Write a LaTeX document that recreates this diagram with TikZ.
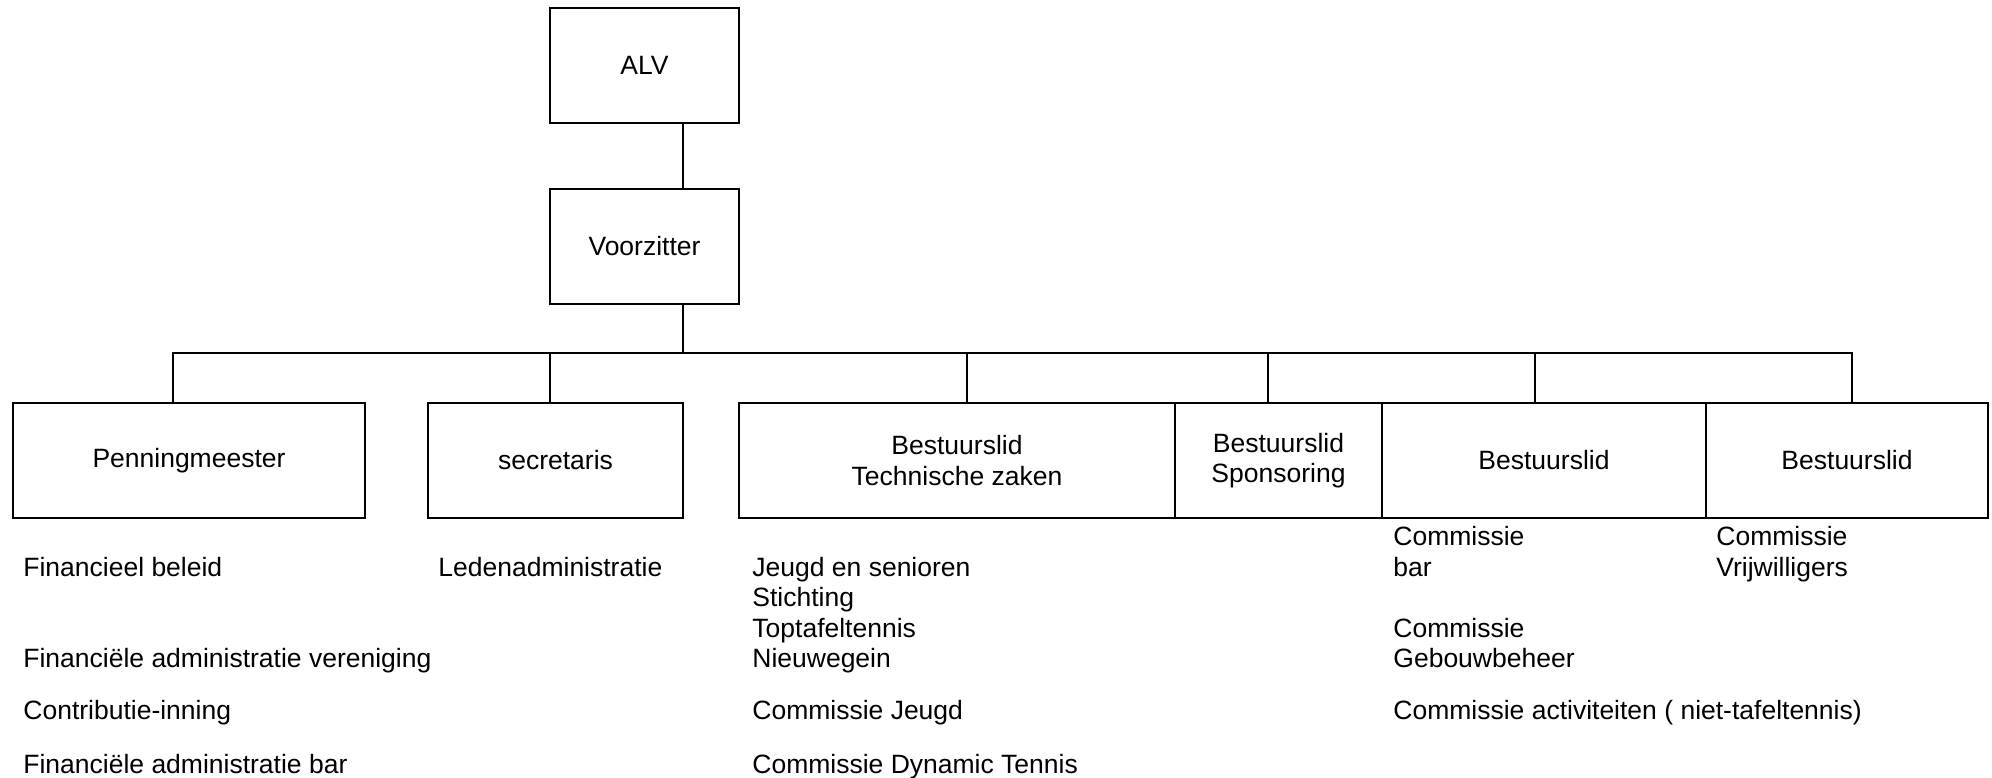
\documentclass[tikz,border=0pt]{standalone}
\usepackage{fontspec}
\setmainfont{Liberation Sans}
\begin{document}
\begin{tikzpicture}[x=0.5pt,y=-0.5pt,
  txt/.style={font=\fontsize{13.25}{15.25}\selectfont},
  box/.style={draw,line width=1pt,rectangle,inner sep=0pt,align=center,minimum height=57.5pt,txt},
  lbl/.style={anchor=base west,inner sep=0pt,align=left,txt},
  conn/.style={line width=1pt}]
\useasboundingbox (0,0) rectangle (1992,777);
% top boxes
\node[box,minimum width=94.5pt] (alv) at (644.5,65.5) {ALV};
\node[box,minimum width=94.5pt] (vz) at (644.5,246.5) {Voorzitter};
% second row
\node[box,minimum width=176pt] (pen) at (189,460.5) {Penningmeester};
\node[box,minimum width=127.5pt] (sec) at (555.5,460.5) {secretaris};
\node[box,minimum width=218pt] (tech) at (957,460.5) {Bestuurslid\\Technische zaken};
\node[box,minimum width=103.5pt] (spon) at (1278.5,460.5) {Bestuurslid\\Sponsoring};
\node[box,minimum width=162pt] (b3) at (1544,460.5) {Bestuurslid};
\node[box,minimum width=141pt] (b4) at (1847,460.5) {Bestuurslid};
% connectors
\coordinate (vx) at (683,353);
\coordinate (bl) at (173,353);
\coordinate (br) at (1852,353);
\coordinate (d2) at (550,353);
\coordinate (d3) at (967,353);
\coordinate (d4) at (1268,353);
\coordinate (d5) at (1535,353);
\draw[conn] (alv.south -| vx) -- (vz.north -| vx);
\draw[conn] (vz.south -| vx) -- (vx);
\draw[conn] (pen.north -| bl) -- (bl) -- (br) -- (b4.north -| br);
\draw[conn] (d2) -- (sec.north -| d2);
\draw[conn] (d3) -- (tech.north -| d3);
\draw[conn] (d4) -- (spon.north -| d4);
\draw[conn] (d5) -- (b3.north -| d5);
% labels (base = baseline of last line)
\node[lbl] (p1) at (23,576) {Financieel beleid};
\node[lbl] (p2) at (23,667.5) {Financiële administratie vereniging};
\node[lbl] (p3) at (23,719.5) {Contributie-inning};
\node[lbl] (p4) at (23,773) {Financiële administratie bar};
\node[lbl] (s1) at (438,576) {Ledenadministratie};
\node[lbl] (t1) at (752,667.5) {Jeugd en senioren\\Stichting\\Toptafeltennis\\Nieuwegein};
\node[lbl] (t2) at (752,719.5) {Commissie Jeugd};
\node[lbl] (t3) at (752,773) {Commissie Dynamic Tennis};
\node[lbl] (c1) at (1393,576) {Commissie\\bar};
\node[lbl] (c2) at (1393,667.5) {Commissie\\Gebouwbeheer};
\node[lbl] (c3) at (1393,719.5) {Commissie activiteiten ( niet-tafeltennis)};
\node[lbl] (v1) at (1716,576) {Commissie\\Vrijwilligers};
\end{tikzpicture}
\end{document}
